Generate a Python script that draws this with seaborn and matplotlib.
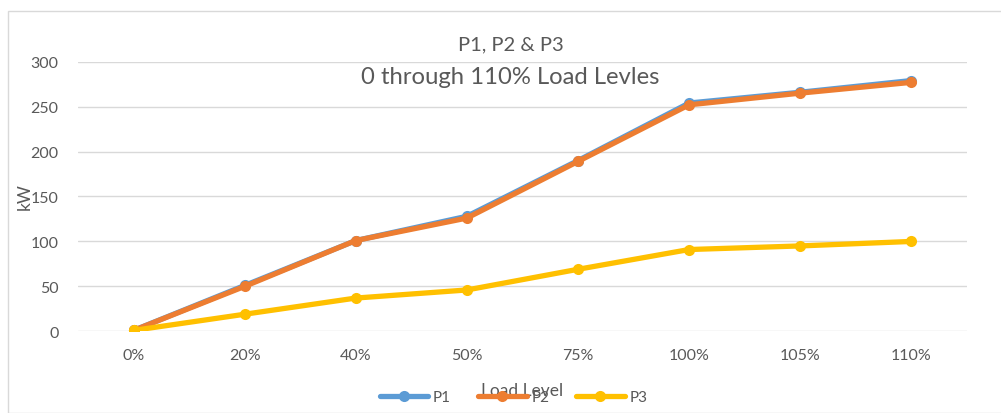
import matplotlib
matplotlib.use("Agg")
import matplotlib.pyplot as plt
import seaborn as sns
import pandas as pd
from matplotlib.patches import Rectangle
from matplotlib.lines import Line2D

load_levels = ["0%", "20%", "40%", "50%", "75%", "100%", "105%", "110%"]
p1 = [1, 51, 101, 128, 190, 254, 266, 279]
p2 = [1, 50, 101, 126, 189, 252, 265, 277]
p3 = [1, 19, 37, 46, 69, 91, 95, 100]
series_names = ["P1", "P2", "P3"]
colors = ["#5B9BD5", "#ED7D31", "#FFC000"]
y_ticks = [0, 50, 100, 150, 200, 250, 300]

df = pd.DataFrame({
    "Load Level": load_levels * 3,
    "kW": p1 + p2 + p3,
    "Series": ["P1"] * len(p1) + ["P2"] * len(p2) + ["P3"] * len(p3),
})
df["x"] = df["Load Level"].map({k: i for i, k in enumerate(load_levels)})

sns.set_theme(style="white")
plt.rcParams["font.family"] = ["Lato", "DejaVu Sans"]

fig = plt.figure(figsize=(10.01, 4.14), dpi=100)
ax = fig.add_axes([0.0779, 0.1973, 0.888, 0.6513])

sns.lineplot(data=df, x="x", y="kW", hue="Series", hue_order=series_names,
             palette=colors, marker="o", markersize=8, markeredgewidth=0,
             linewidth=3.8, sort=False, legend=False, ax=ax, zorder=3)

ax.set_xlim(-0.5, len(load_levels) - 0.5)
ax.set_ylim(0, 300)
ax.set_xticks(range(len(load_levels)))
ax.set_xticklabels(load_levels)
ax.set_yticks(y_ticks)
ax.tick_params(axis="both", length=0, labelsize=11.5, colors="#595959")
ax.tick_params(axis="x", pad=12)
ax.tick_params(axis="y", pad=14)
ax.grid(axis="y", color="#D9D9D9", linewidth=1)
ax.set_axisbelow(True)
for s in ax.spines.values():
    s.set_visible(False)
ax.set_xlabel("")
ax.set_ylabel("")

fig.text(0.025, 1 - 197 / 414, "kW", rotation=90, ha="center", va="center",
         fontsize=12.5, color="#595959")
fig.text(0.522, 1 - 391 / 414, "Load Level", ha="center", va="center",
         fontsize=12.5, color="#595959")

fig.text(0.51, 1 - 45 / 414, "P1, P2 & P3", ha="center", va="center",
         fontsize=14.5, color="#595959")
fig.text(0.51, 1 - 78 / 414, "0 through 110% Load Levles", ha="center",
         va="center", fontsize=17.2, color="#595959")

handles = [Line2D([0], [0], color=c, linewidth=3.8, marker="o", markersize=8,
                  markeredgewidth=0) for c in colors]
fig.legend(handles, series_names, loc="center", bbox_to_anchor=(0.513, 1 - 398 / 414),
           ncol=3, frameon=False, fontsize=11, labelcolor="#595959",
           handlelength=3.2, columnspacing=1.75, handletextpad=0.3)

fig.patches.append(Rectangle((8 / 1001, 0), 1.0, 1 - 12 / 414,
                             transform=fig.transFigure, fill=False,
                             edgecolor="#D9D9D9", linewidth=1))

fig.savefig("out.png", dpi=100)
